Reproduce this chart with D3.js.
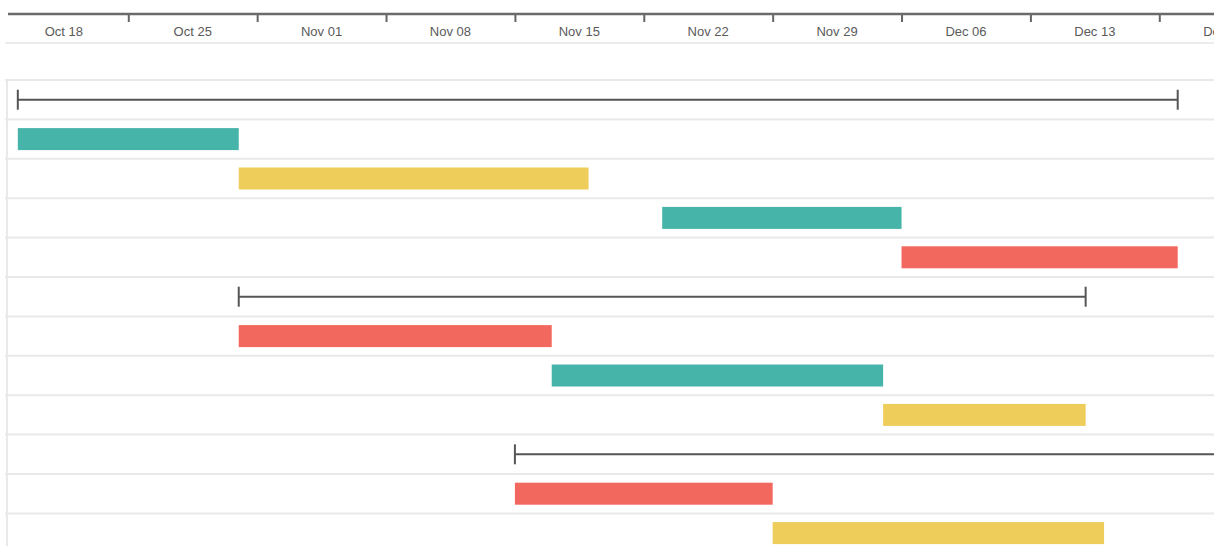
<!DOCTYPE html>
<html>
<head>
<meta charset="utf-8">
<script src="https://cdn.jsdelivr.net/npm/d3@7"></script>
<style>
  html, body { margin: 0; padding: 0; background: #fff; }
  svg { display: block; }
</style>
</head>
<body>
<div id="chart"></div>
<script>
// ---- data ----
const weekLabels = ["Oct 18","Oct 25","Nov 01","Nov 08","Nov 15","Nov 22","Nov 29","Dec 06","Dec 13","Dec 20"];
const weekStarts = ["2021-10-18","2021-10-25","2021-11-01","2021-11-08","2021-11-15","2021-11-22","2021-11-29","2021-12-06","2021-12-13","2021-12-20"];
const taskTypes  = ["summary","task","task","task","task","summary","task","task","task","summary","task","task"];
const taskStarts = ["2021-10-19","2021-10-19","2021-10-31","2021-11-23","2021-12-06","2021-10-31","2021-10-31","2021-11-17","2021-12-05","2021-11-15","2021-11-15","2021-11-29"];
const taskEnds   = ["2021-12-21","2021-10-31","2021-11-19","2021-12-06","2021-12-21","2021-12-16","2021-11-17","2021-12-05","2021-12-16","2021-12-31","2021-11-29","2021-12-17"];
const taskColors = [null,"#46b4a9","#eecd5b",  "#46b4a9","#f3685e", null,"#f3685e","#46b4a9","#eecd5b", null,"#f3685e","#eecd5b"];

// ---- layout ----
const W = 1225, H = 546, clipW = 1214;
const parse = d3.utcParse("%Y-%m-%d");
const x = d3.scaleUtc()
  .domain([parse("2021-10-18"), parse("2021-12-27")])
  .range([-0.6, -0.6 + 70 * 18.411]);

const rowTop = 80, rowH = 39.4;
const y = d3.scaleBand()
  .domain(d3.range(taskTypes.length))
  .range([rowTop, rowTop + rowH * taskTypes.length])
  .paddingInner(0).paddingOuter(0);

const svg = d3.select("#chart").append("svg")
  .attr("width", W).attr("height", H);

svg.append("defs").append("clipPath").attr("id", "clip")
  .append("rect").attr("x", 0).attr("y", 0).attr("width", clipW).attr("height", H);

const root = svg.append("g").attr("clip-path", "url(#clip)");

// header axis
const axisY = 14;
const axisG = root.append("g").attr("transform", `translate(0,${axisY})`);
const axis = d3.axisBottom(x)
  .tickValues(weekStarts.slice(1).map(parse))
  .tickSize(8)
  .tickFormat("");
axisG.call(axis);
axisG.select(".domain").remove();
axisG.selectAll(".tick line").attr("stroke", "#666").attr("stroke-width", 2);
axisG.append("line")
  .attr("x1", 8).attr("x2", W).attr("y1", 0).attr("y2", 0)
  .attr("stroke", "#6a6a6a").attr("stroke-width", 2.5);

// week labels, centered in week cells
root.append("g").selectAll("text")
  .data(weekLabels)
  .join("text")
  .attr("x", (d, i) => {
    const s = parse(weekStarts[i]);
    return (x(s) + x(d3.utcDay.offset(s, 7))) / 2;
  })
  .attr("y", 36)
  .attr("text-anchor", "middle")
  .attr("font-family", "Liberation Sans, Arial, sans-serif")
  .attr("font-size", 13)
  .attr("fill", "#5a5a5a")
  .text(d => d);

// grid lines
const grid = root.append("g");
grid.append("line")
  .attr("x1", 5).attr("x2", W).attr("y1", 43).attr("y2", 43)
  .attr("stroke", "#ececec").attr("stroke-width", 2);
const lines = d3.range(taskTypes.length + 1).map(i => rowTop + i * rowH);
grid.selectAll("line.row")
  .data(lines)
  .join("line")
  .attr("class", "row")
  .attr("x1", 5).attr("x2", W)
  .attr("y1", d => d).attr("y2", d => d)
  .attr("stroke", "#e9e9e9").attr("stroke-width", 2);
grid.append("line")
  .attr("x1", 7).attr("x2", 7).attr("y1", rowTop).attr("y2", H)
  .attr("stroke", "#e9e9e9").attr("stroke-width", 2);

// tasks
const tasks = taskTypes.map((t, i) => ({
  type: t, start: parse(taskStarts[i]), end: parse(taskEnds[i]), color: taskColors[i], i
}));

const barH = 22;
root.append("g").selectAll("rect")
  .data(tasks.filter(d => d.type === "task"))
  .join("rect")
  .attr("x", d => x(d.start))
  .attr("width", d => x(d.end) - x(d.start))
  .attr("y", d => y(d.i) + y.bandwidth() / 2 - barH / 2)
  .attr("height", barH)
  .attr("fill", d => d.color);

const sumG = root.append("g").selectAll("g")
  .data(tasks.filter(d => d.type === "summary"))
  .join("g")
  .attr("transform", d => `translate(0,${y(d.i) + y.bandwidth() / 2})`);
sumG.append("line")
  .attr("x1", d => x(d.start)).attr("x2", d => x(d.end))
  .attr("y1", 0).attr("y2", 0)
  .attr("stroke", "#555").attr("stroke-width", 2);
sumG.append("line")
  .attr("x1", d => x(d.start)).attr("x2", d => x(d.start))
  .attr("y1", -10).attr("y2", 10)
  .attr("stroke", "#555").attr("stroke-width", 2);
sumG.append("line")
  .attr("x1", d => x(d.end)).attr("x2", d => x(d.end))
  .attr("y1", -10).attr("y2", 10)
  .attr("stroke", "#555").attr("stroke-width", 2);
</script>
</body>
</html>
